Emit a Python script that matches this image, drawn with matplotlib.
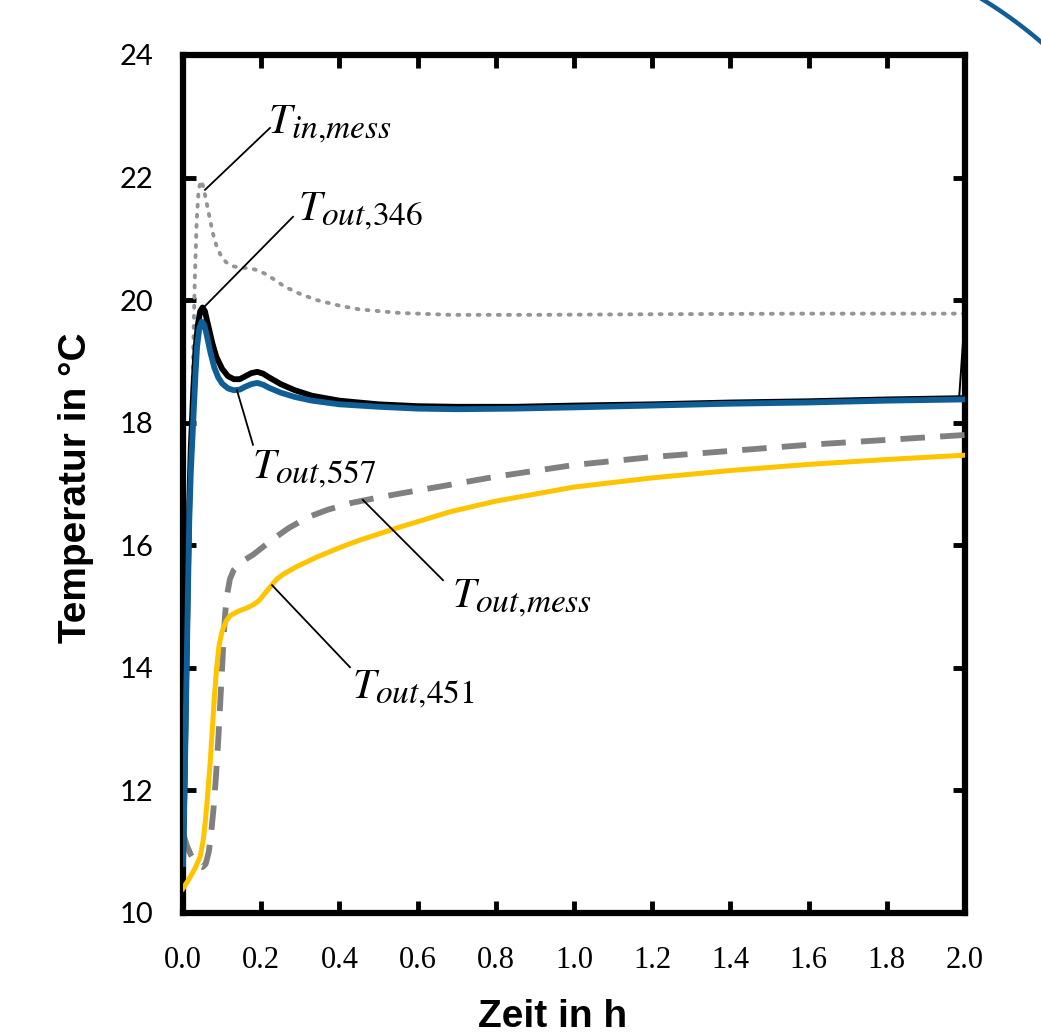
import matplotlib
matplotlib.use("Agg")
import matplotlib.pyplot as plt
import numpy as np
from matplotlib.lines import Line2D
import matplotlib._mathtext as _mt

# ---- data ----
t_in = [0.0, 0.005, 0.01, 0.015, 0.02, 0.025, 0.03, 0.035, 0.04, 0.046, 0.052, 0.06,
        0.068, 0.076, 0.085, 0.095, 0.11, 0.13, 0.15, 0.17, 0.19, 0.21, 0.235, 0.26,
        0.3, 0.343, 0.4, 0.45, 0.556, 0.685, 0.9, 1.2, 1.6, 2.0]
T_in = [11.3, 12.5, 14.0, 15.6, 17.2, 18.8, 20.3, 21.3, 21.8, 21.95, 21.85, 21.6,
        21.35, 21.1, 20.9, 20.75, 20.62, 20.55, 20.53, 20.52, 20.49, 20.43, 20.33, 20.22,
        20.1, 20.0, 19.91, 19.85, 19.79, 19.76, 19.76, 19.77, 19.78, 19.78]

t_346 = [0.0, 0.004, 0.008, 0.012, 0.016, 0.02, 0.026, 0.032, 0.038, 0.044, 0.05, 0.056,
         0.064, 0.075, 0.085, 0.1, 0.115, 0.13, 0.145, 0.16, 0.175, 0.19, 0.205, 0.22,
         0.25, 0.286, 0.33, 0.4, 0.5, 0.6, 0.7, 0.85, 1.0, 1.2, 1.4, 1.6, 1.8, 1.985, 2.0]
T_346 = [10.8, 12.2, 13.8, 15.3, 16.7, 17.6, 18.5, 19.2, 19.6, 19.82, 19.88, 19.82,
         19.6, 19.3, 19.08, 18.88, 18.76, 18.71, 18.71, 18.76, 18.81, 18.83, 18.8, 18.74,
         18.63, 18.53, 18.44, 18.36, 18.3, 18.27, 18.26, 18.26, 18.28, 18.3, 18.33, 18.35,
         18.38, 18.4, 19.8]

t_557 = [0.0, 0.004, 0.008, 0.012, 0.016, 0.02, 0.026, 0.032, 0.036, 0.042, 0.048, 0.054,
         0.06, 0.07, 0.08, 0.09, 0.1, 0.115, 0.13, 0.145, 0.16, 0.175, 0.19, 0.205, 0.22,
         0.25, 0.286, 0.33, 0.4, 0.5, 0.6, 0.7, 0.85, 1.0, 1.2, 1.4, 1.6, 1.8, 2.0]
T_557 = [10.8, 12.0, 13.5, 15.0, 16.4, 17.2, 18.0, 18.8, 19.24, 19.55, 19.65, 19.6,
         19.45, 19.15, 18.9, 18.74, 18.64, 18.56, 18.53, 18.54, 18.59, 18.63, 18.65, 18.62,
         18.57, 18.49, 18.42, 18.36, 18.3, 18.26, 18.23, 18.22, 18.23, 18.25, 18.28, 18.31,
         18.33, 18.36, 18.38]

t_mess = [0.0, 0.01, 0.02, 0.03, 0.04, 0.05, 0.058, 0.066, 0.072, 0.078, 0.084, 0.09,
          0.095, 0.1, 0.104, 0.108, 0.113, 0.12, 0.13, 0.145, 0.16, 0.18, 0.2, 0.23, 0.27,
          0.32, 0.37, 0.43, 0.5, 0.56, 0.65, 0.8, 1.0, 1.2, 1.4, 1.6, 1.8, 2.0]
T_mess = [11.3, 11.1, 10.95, 10.85, 10.78, 10.75, 10.8, 11.0, 11.3, 11.7, 12.2, 12.8,
          13.4, 14.0, 14.5, 14.9, 15.2, 15.45, 15.6, 15.7, 15.77, 15.85, 15.95, 16.1, 16.28,
          16.46, 16.58, 16.69, 16.78, 16.85, 16.95, 17.12, 17.31, 17.44, 17.54, 17.64, 17.72, 17.8]

t_451 = [0.0, 0.015, 0.03, 0.044, 0.052, 0.058, 0.064, 0.07, 0.075, 0.08, 0.086, 0.092,
         0.1, 0.11, 0.12, 0.14, 0.164, 0.18, 0.195, 0.21, 0.223, 0.24, 0.257, 0.29, 0.343,
         0.4, 0.45, 0.556, 0.685, 0.8, 1.0, 1.2, 1.4, 1.6, 1.8, 2.0]
T_451 = [10.4, 10.55, 10.72, 10.92, 11.2, 11.55, 12.0, 12.5, 13.0, 13.5, 14.0, 14.35,
         14.6, 14.76, 14.85, 14.92, 14.98, 15.03, 15.1, 15.22, 15.32, 15.45, 15.53, 15.65, 15.81,
         15.96, 16.08, 16.3, 16.55, 16.72, 16.95, 17.1, 17.22, 17.32, 17.4, 17.47]

x_ticks = [0.0, 0.2, 0.4, 0.6, 0.8, 1.0, 1.2, 1.4, 1.6, 1.8, 2.0]
y_ticks = [10, 12, 14, 16, 18, 20, 22, 24]

labels = [r"$T_{in{,}mess}$", r"$T_{out{,}346}$", r"$T_{out{,}557}$", r"$T_{out{,}mess}$", r"$T_{out{,}451}$"]
label_anchor = [(0.2174, 22.727), (0.2941, 21.307), (0.1765, 17.098), (0.688, 15.0), (0.4322, 13.51)]
leader_start = [(0.2225, 22.81), (0.2813, 21.36), (0.179, 17.64), (0.665, 15.43), (0.427, 14.01)]
leader_end = [(0.0563, 21.80), (0.0512, 19.87), (0.138, 18.53), (0.460, 16.74), (0.2276, 15.35)]

plt.rcParams['mathtext.fontset'] = 'stix'
# larger subscripts (closer to the reference's equation style)
_mt.SHRINK_FACTOR = 0.8

W, H = 1041, 1036
fig = plt.figure(figsize=(W / 100, H / 100), dpi=100)
ax = fig.add_axes([183 / W, 1 - 913 / H, (965 - 183) / W, (913 - 55) / H])

ax.plot(t_in, T_in, color='#959595', lw=2.8, ls=(0, (0.5, 2.1)), dash_capstyle='round', zorder=2)
ax.plot(t_mess, T_mess, color='#808080', lw=4.2, ls=(0, (4.2, 2.6)), zorder=3)
ax.plot(t_451, T_451, color='#FFC400', lw=3.6, zorder=4)
ax.plot(t_346[:-1], T_346[:-1], color='black', lw=4.2, zorder=5)
ax.plot(t_346[-2:], T_346[-2:], color='black', lw=1.4, zorder=5)
ax.plot(t_557, T_557, color='#0F5E96', lw=4.2, zorder=6)

for lab, anc, ls, le in zip(labels, label_anchor, leader_start, leader_end):
    ax.plot([ls[0], le[0]], [ls[1], le[1]], color='black', lw=1.3, zorder=7)
    ax.text(anc[0], anc[1], lab, fontsize=30, ha='left', va='baseline', zorder=8)

ax.set_xlim(0, 2.0)
ax.set_ylim(10, 24)
ax.set_xticks(x_ticks)
ax.set_yticks(y_ticks)
ax.set_xticklabels([f"{v:.1f}" for v in x_ticks], family='Liberation Serif', fontsize=22)
ax.set_yticklabels([str(v) for v in y_ticks], family='Lato', fontsize=21)
ax.tick_params(direction='in', length=9, width=3.5, top=True, right=True)
ax.tick_params(axis='x', pad=24)
ax.tick_params(axis='y', pad=21)
for s in ax.spines.values():
    s.set_linewidth(4.5)
    s.set_color('black')

fig.text(553 / W, 1 - 1027 / H, "Zeit in h", family='Liberation Sans', fontweight='bold',
         fontsize=28, ha='center', va='baseline')
fig.text(86 / W, 1 - 488 / H, "Temperatur in °C", family='Liberation Sans', fontweight='bold',
         fontsize=28, ha='center', va='baseline', rotation=90, rotation_mode='anchor')

# decorative arc in top right corner
ang = np.linspace(np.deg2rad(40), np.deg2rad(72), 60)
cx, cy, r = 750, 380, 446
px = cx + r * np.cos(ang)
py = cy - r * np.sin(ang)
fig.lines.append(Line2D(px / W, 1 - py / H, transform=fig.transFigure, color='#0F5E96', lw=3.2))

fig.savefig("out.png", dpi=100)
